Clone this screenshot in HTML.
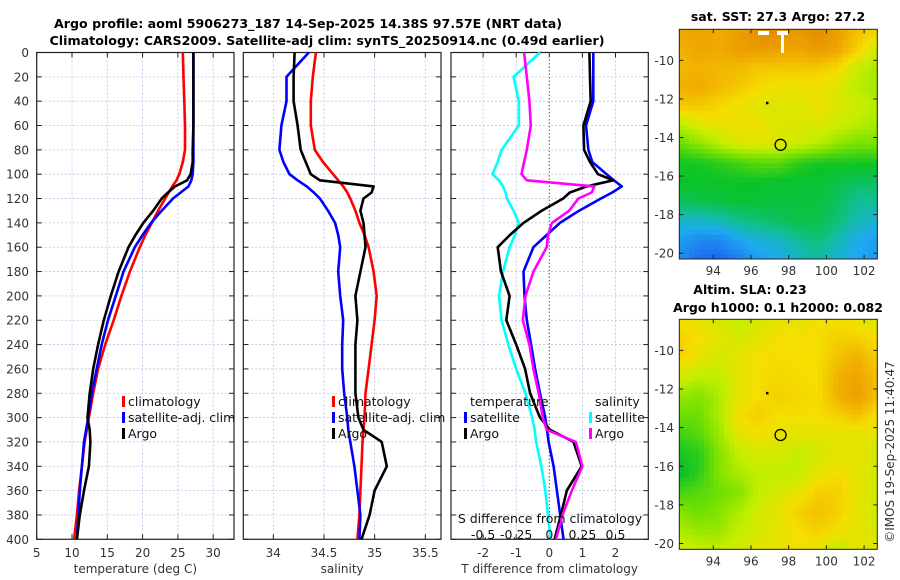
<!DOCTYPE html>
<html><head><meta charset="utf-8"><style>
html,body{margin:0;padding:0;background:#fff;}
svg{display:block;font-family:"DejaVu Sans","Liberation Sans",sans-serif;}
.tl{font-size:12px;fill:#333;}
.ttl{font-size:12.5px;font-weight:bold;fill:#000;}
.lg{font-size:12.5px;fill:#111;}
</style></head><body>
<svg id="fig" width="900" height="580" viewBox="0 0 900 580" xmlns="http://www.w3.org/2000/svg">
<text class="ttl" x="308" y="28" text-anchor="middle" textLength="508" lengthAdjust="spacingAndGlyphs">Argo profile: aoml 5906273_187 14-Sep-2025 14.38S 97.57E (NRT data)</text>
<text class="ttl" x="327" y="45" text-anchor="middle" textLength="555" lengthAdjust="spacingAndGlyphs">Climatology: CARS2009. Satellite-adj clim: synTS_20250914.nc (0.49d earlier)</text>
<g id="plots"></g>
<text class="ttl" x="778" y="21" text-anchor="middle">sat. SST: 27.3 Argo: 27.2</text>
<text class="ttl" x="750" y="294" text-anchor="middle">Altim. SLA: 0.23</text>
<text class="ttl" x="778" y="312" text-anchor="middle">Argo h1000: 0.1 h2000: 0.082</text>
<text class="tl" transform="translate(894,452) rotate(-90)" text-anchor="middle" font-size="12.5">©IMOS 19-Sep-2025 11:40:47</text>
</svg>
<script>
// ---------- DATA ----------
const depths = [0,20,40,60,80,90,100,105,110,115,120,130,140,150,160,180,200,220,240,260,280,300,310,320,340,360,380,400];
const tempClim = [25.7,25.8,25.9,26.0,26.0,25.7,25.2,24.8,24.2,23.7,23.2,22.2,21.3,20.4,19.6,18.2,17.0,15.9,14.7,13.7,13.0,12.4,12.1,11.8,11.4,11.0,10.7,10.3];
const tempSat = [27.2,27.2,27.2,27.2,27.2,27.2,27.1,26.9,26.5,25.4,24.3,22.7,21.2,20.0,18.9,17.3,16.2,15.1,14.2,13.5,12.8,12.3,12.0,11.7,11.4,11.1,10.9,10.7];
const tempArgo = [27.2,27.2,27.2,27.2,27.1,27.1,26.8,26.3,24.6,23.6,22.7,21.5,20.1,19.0,18.0,16.6,15.5,14.5,13.7,13.0,12.5,12.2,12.5,12.6,12.4,11.7,11.1,10.7];
const salClim = [34.42,34.39,34.37,34.37,34.41,34.49,34.59,34.64,34.69,34.73,34.76,34.81,34.85,34.90,34.94,34.99,35.02,35.00,34.97,34.94,34.91,34.90,34.89,34.88,34.87,34.86,34.85,34.83];
const salSat = [34.35,34.13,34.13,34.08,34.06,34.10,34.16,34.24,34.33,34.40,34.46,34.54,34.61,34.64,34.66,34.64,34.66,34.69,34.68,34.68,34.70,34.73,34.74,34.76,34.80,34.83,34.86,34.85];
const salArgo = [34.21,34.20,34.20,34.24,34.27,34.32,34.37,34.46,34.99,34.97,34.89,34.86,34.89,34.90,34.91,34.86,34.81,34.83,34.81,34.81,34.81,34.84,34.89,35.07,35.12,35.00,34.95,34.87];
const tDiffSat = [1.33,1.33,1.33,1.11,1.18,1.30,1.73,1.95,2.19,1.90,1.56,0.90,0.32,-0.08,-0.48,-0.78,-0.75,-0.68,-0.55,-0.43,-0.28,-0.12,-0.07,-0.02,0.13,0.23,0.33,0.43];
const tDiffArgo = [1.21,1.23,1.25,1.03,1.05,1.23,1.47,1.93,1.13,0.62,0.42,-0.23,-0.78,-1.19,-1.56,-1.46,-1.20,-1.30,-1.00,-0.73,-0.58,-0.28,0.02,0.73,0.98,0.53,0.35,0.16];
const sDiffSat = [-0.07,-0.27,-0.23,-0.23,-0.36,-0.39,-0.43,-0.38,-0.35,-0.33,-0.32,-0.27,-0.23,-0.26,-0.30,-0.35,-0.38,-0.36,-0.31,-0.25,-0.18,-0.13,-0.11,-0.10,-0.06,-0.03,-0.01,0.01];
const sDiffArgo = [-0.19,-0.17,-0.15,-0.14,-0.17,-0.19,-0.21,-0.17,0.34,0.32,0.22,0.15,0.02,-0.01,-0.02,-0.12,-0.18,-0.20,-0.15,-0.12,-0.08,-0.05,-0.02,0.20,0.25,0.17,0.10,0.05];
const depthTicks = [0,20,40,60,80,100,120,140,160,180,200,220,240,260,280,300,320,340,360,380,400];
const tempTicks = [5,10,15,20,25,30];
const salTicks = [34,34.5,35,35.5];
const tDiffTicks = [-2,-1,0,1,2];
const sDiffTicks = [-0.5,-0.25,0,0.25,0.5];
const mapLons = [94,96,98,100,102];
const mapLats = [-10,-12,-14,-16,-18,-20];
const argoLon = 97.57, argoLat = -14.38;
const sstGrid = [
[.86,.86,.85,.87,.90,.90,.88,.90,.87,.82,.80],
[.84,.86,.85,.87,.88,.87,.86,.88,.86,.80,.74],
[.83,.84,.83,.83,.81,.81,.81,.81,.79,.73,.69],
[.84,.85,.83,.81,.79,.77,.77,.77,.75,.71,.69],
[.81,.81,.79,.77,.75,.75,.75,.77,.75,.73,.71],
[.71,.75,.77,.77,.77,.75,.75,.75,.73,.71,.69],
[.63,.67,.71,.75,.75,.75,.73,.71,.67,.65,.65],
[.56,.56,.58,.60,.62,.62,.58,.56,.56,.56,.56],
[.55,.55,.55,.55,.55,.54,.54,.54,.52,.50,.50],
[.50,.52,.53,.54,.54,.53,.53,.53,.50,.45,.45],
[.40,.40,.42,.46,.48,.50,.52,.52,.48,.42,.38],
[.32,.28,.28,.34,.38,.40,.45,.48,.42,.36,.32],
[.30,.22,.20,.26,.32,.35,.40,.44,.38,.34,.32]];
const slaGrid = [
[.78,.76,.74,.72,.74,.76,.76,.78,.78,.76,.74],
[.80,.78,.76,.74,.76,.78,.78,.78,.80,.80,.78],
[.80,.76,.74,.76,.78,.78,.78,.78,.82,.84,.80],
[.74,.72,.72,.76,.78,.79,.78,.78,.84,.86,.82],
[.68,.66,.70,.76,.78,.80,.79,.78,.84,.87,.82],
[.64,.64,.70,.78,.80,.78,.78,.78,.80,.82,.78],
[.60,.62,.68,.76,.78,.76,.76,.76,.76,.76,.76],
[.56,.58,.66,.72,.74,.74,.72,.74,.76,.76,.74],
[.54,.58,.66,.70,.72,.72,.72,.76,.78,.76,.74],
[.60,.62,.64,.66,.72,.74,.76,.80,.80,.76,.74],
[.66,.64,.66,.70,.74,.76,.80,.82,.80,.76,.74],
[.70,.68,.68,.72,.74,.76,.78,.80,.78,.76,.74],
[.74,.72,.72,.74,.76,.76,.78,.76,.72,.76,.76]];

// ---------- HELPERS ----------
const NS='http://www.w3.org/2000/svg';
const root=document.getElementById('plots');
function mk(tag,attrs,parent){const e=document.createElementNS(NS,tag);for(const k in attrs)e.setAttribute(k,attrs[k]);(parent||root).appendChild(e);return e;}
const TOP=52.5, BOT=539.3;
const yD=d=>TOP+(d/400)*(BOT-TOP);
function lin(d0,d1,r0,r1){return v=>r0+(v-d0)/(d1-d0)*(r1-r0);}
const xT=lin(5,30,36.7,213.2);
const xS=lin(34,35.5,273.3,425.3);
const xTd=lin(0,1,549.3,582.4);
const xSd=v=>xTd(v*4);
const panels=[{x0:36.7,x1:234,name:'temperature-panel',ticks:tempTicks,sx:xT,fmt:v=>String(v),title:'temperature (deg C)',yl:true},
{x0:243.3,x1:441,name:'salinity-panel',ticks:salTicks,sx:xS,fmt:v=>String(v),title:'salinity'},
{x0:451,x1:648.3,name:'difference-panel',ticks:tDiffTicks,sx:xTd,fmt:v=>String(v),title:'T difference from climatology'}];

panels.forEach((p,pi)=>{
  const g=mk('g',{});
  
  
  depthTicks.forEach(d=>{
    const l=mk('line',{x1:p.x0,x2:p.x1,y1:yD(d),y2:yD(d),stroke:'#b8c4e8','stroke-width':0.8,'stroke-dasharray':'2,2'},g);
    
    
    mk('line',{x1:p.x0,x2:p.x0+5,y1:yD(d),y2:yD(d),stroke:'#222','stroke-width':1},g);
    mk('line',{x1:p.x1-5,x2:p.x1,y1:yD(d),y2:yD(d),stroke:'#222','stroke-width':1},g);
  });
  p.ticks.forEach(v=>{
    const x=p.sx(v);
    if(!(pi==2&&v==0)){
      const l=mk('line',{x1:x,x2:x,y1:TOP,y2:BOT,stroke:'#b8c4e8','stroke-width':0.8,'stroke-dasharray':'2,2'},g);
      
      
    }
    mk('line',{x1:x,x2:x,y1:BOT-5,y2:BOT,stroke:'#222','stroke-width':1},g);
    mk('line',{x1:x,x2:x,y1:TOP,y2:TOP+5,stroke:'#222','stroke-width':1},g);
    const t=mk('text',{x:x,y:557,'text-anchor':'middle',class:'tl'},g);
    t.textContent=p.fmt(v);
    
    
  });
  const at=mk('text',{x:(p.x0+p.x1)/2,y:573,'text-anchor':'middle',class:'tl','font-size':'13'},g);
  at.textContent=p.title;
  
  
  if(p.yl){depthTicks.forEach(d=>{const t=mk('text',{x:29,y:yD(d)+4.5,'text-anchor':'end',class:'tl'},g);t.textContent=d;
    
    });}
  const fr=mk('rect',{x:p.x0,y:TOP,width:p.x1-p.x0,height:BOT-TOP,fill:'none',stroke:'#222','stroke-width':1.2},g);
  
  
});
const zl=mk('line',{x1:xTd(0),x2:xTd(0),y1:TOP,y2:BOT,stroke:'#5a5a30','stroke-width':1,'stroke-dasharray':'1.5,2'});



function series(vals,sx,color,name){
  const pts=vals.map((v,i)=>sx(v).toFixed(1)+','+yD(depths[i]).toFixed(1)).join(' ');
  const pl=mk('polyline',{points:pts,fill:'none',stroke:color,'stroke-width':2.6,'stroke-linejoin':'round'});
  
  
}
series(tempClim,xT,'#ff0000','temp-climatology-line');
series(tempSat,xT,'#0000ff','temp-satellite-line');
series(tempArgo,xT,'#000000','temp-argo-line');
series(salClim,xS,'#ff0000','sal-climatology-line');
series(salSat,xS,'#0000ff','sal-satellite-line');
series(salArgo,xS,'#000000','sal-argo-line');
series(sDiffSat,xSd,'#00ffff','sdiff-satellite-line');
series(tDiffSat,xTd,'#0000ff','tdiff-satellite-line');
series(tDiffArgo,xTd,'#000000','tdiff-argo-line');
series(sDiffArgo,xSd,'#ff00ff','sdiff-argo-line');

function legend(x,y,color,label){
  const g=mk('g',{});
  
  
  if(color)mk('rect',{x:x-6,y:y-10,width:3,height:11,fill:color},g);
  const t=mk('text',{x:x,y:y,class:'lg'},g);t.textContent=label;
}
legend(128,406,'#ff0000','climatology');legend(128,422,'#0000ff','satellite-adj. clim');legend(128,438,'#000000','Argo');
legend(338,406,'#ff0000','climatology');legend(338,422,'#0000ff','satellite-adj. clim');legend(338,438,'#000000','Argo');
legend(470,406,null,'temperature');legend(470,422,'#0000ff','satellite');legend(470,438,'#000000','Argo');
legend(595,406,null,'salinity');legend(595,422,'#00ffff','satellite');legend(595,438,'#ff00ff','Argo');
const st=mk('text',{x:550,y:523,'text-anchor':'middle',class:'lg','font-size':'13'});st.textContent='S difference from climatology';


sDiffTicks.forEach(v=>{const t=mk('text',{x:xSd(v),y:539,'text-anchor':'middle',class:'lg'});t.textContent=String(v);
  
  });

// ---------- MAPS ----------
const stops=[[0.2,[30,100,240]],[0.35,[30,170,240]],[0.45,[16,190,150]],[0.55,[10,195,40]],[0.65,[120,225,0]],[0.72,[195,238,0]],[0.78,[245,222,0]],[0.85,[240,170,0]],[0.92,[225,130,0]]];
function cmap(v){if(v<=stops[0][0])return stops[0][1];for(let i=1;i<stops.length;i++){if(v<=stops[i][0]){const a=stops[i-1],b=stops[i],f=(v-a[0])/(b[0]-a[0]);return a[1].map((c,k)=>Math.round(c+(b[1][k]-c)*f));}}return stops[stops.length-1][1];}
function drawMap(grid,top,bot,name){
  const L=679.3,R=877.3,lon0=92.2,lon1=102.7,lat0=-8.39,lat1=-20.3;
  const xl=lin(lon0,lon1,L,R), yl=lin(lat0,lat1,top,bot);
  const g=mk('g',{});
  
  
  const rows=grid.length, cols=grid[0].length, sub=4;
  const nR=(rows-1)*sub, nC=(cols-1)*sub, cw=(R-L)/nC, ch=(bot-top)/nR;
  for(let i=0;i<nR;i++)for(let j=0;j<nC;j++){
    const r=(i+0.5)/sub, c=(j+0.5)/sub, r0=Math.floor(r), c0=Math.floor(c), fr=r-r0, fc=c-c0;
    const v=grid[r0][c0]*(1-fr)*(1-fc)+grid[r0][c0+1]*(1-fr)*fc+grid[r0+1][c0]*fr*(1-fc)+grid[r0+1][c0+1]*fr*fc;
    const col=cmap(v);
    mk('rect',{x:(L+j*cw).toFixed(2),y:(top+i*ch).toFixed(2),width:(cw+0.4).toFixed(2),height:(ch+0.4).toFixed(2),fill:'rgb('+col.join(',')+')'},g);
  }
  mapLats.forEach(la=>{const y=yl(la);mk('line',{x1:L,x2:L+4,y1:y,y2:y,stroke:'#222'},g);mk('line',{x1:R-4,x2:R,y1:y,y2:y,stroke:'#222'},g);
    const t=mk('text',{x:674,y:y+4.5,'text-anchor':'end',class:'tl'},g);t.textContent=la;
    
    });
  mapLons.forEach(lo=>{const x=xl(lo);mk('line',{x1:x,x2:x,y1:bot-4,y2:bot,stroke:'#222'},g);mk('line',{x1:x,x2:x,y1:top,y2:top+4,stroke:'#222'},g);
    const t=mk('text',{x:x,y:bot+16,'text-anchor':'middle',class:'tl'},g);t.textContent=lo;
    
    });
  mk('rect',{x:xl(96.85)-1,y:yl(-12.2)-1,width:2.5,height:2.5,fill:'#000'},g);
  const c=mk('circle',{cx:xl(argoLon),cy:yl(argoLat),r:5.5,fill:'none',stroke:'#000','stroke-width':1.3},g);
  
  
  mk('rect',{x:L,y:top,width:R-L,height:bot-top,fill:'none',stroke:'#222','stroke-width':1},g);
  return g;
}
const m1=drawMap(sstGrid,29.3,259,'sst-map');
mk('rect',{x:758,y:31,width:11,height:4,fill:'#fff'},m1);
mk('rect',{x:777,y:31,width:11,height:4,fill:'#fff'},m1);
mk('rect',{x:781,y:31,width:3,height:22,fill:'#fff'},m1);
drawMap(slaGrid,319.3,549.3,'sla-map');
</script>
</body></html>
